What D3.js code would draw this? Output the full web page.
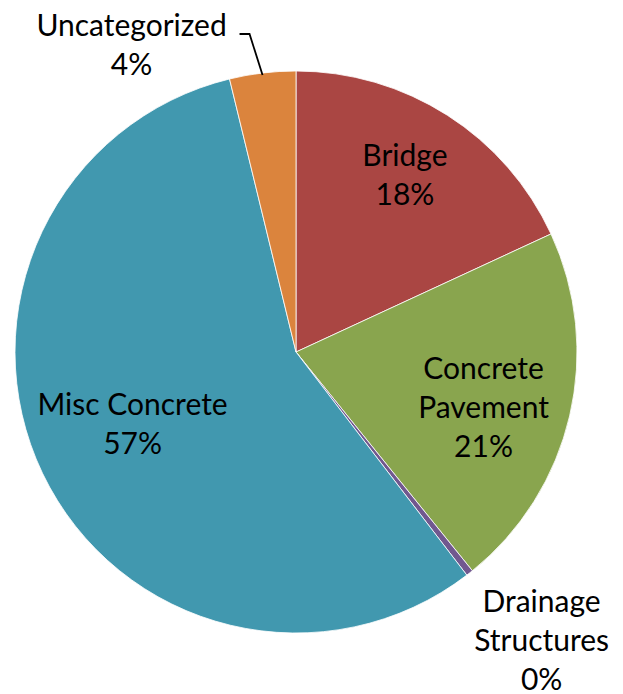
<!DOCTYPE html>
<html>
<head>
<meta charset="utf-8">
<script src="https://cdn.jsdelivr.net/npm/d3@7"></script>
<style>
  html, body { margin: 0; padding: 0; background: #fff; }
  svg text { font-family: Lato, "Open Sans", sans-serif; fill: #000; }
</style>
</head>
<body>
<svg id="chart" width="623" height="694"></svg>
<script>
// chart data
const categories = ["Bridge", "Concrete Pavement", "Drainage Structures", "Misc Concrete", "Uncategorized"];
const values = [18.1, 21.1, 0.4, 56.6, 3.8];
const labelLines = [["Bridge"], ["Concrete", "Pavement"], ["Drainage", "Structures"], ["Misc Concrete"], ["Uncategorized"]];
const colors = ["#AA4643", "#89A54E", "#71588F", "#4198AF", "#DB843D"];

const cx = 296, cy = 352, radius = 281;
const fontSize = 30, lineHeight = 39;

const svg = d3.select("#chart");
const g = svg.append("g").attr("transform", `translate(${cx},${cy})`);

const data = categories.map(function(c, i) {
  return { name: c, value: values[i], lines: labelLines[i], color: colors[i] };
});

const pie = d3.pie().sort(null).value(function(d) { return d.value; });
const arcs = pie(data);
const total = d3.sum(values);

const arc = d3.arc().innerRadius(0).outerRadius(radius);
const labelArc = d3.arc().innerRadius(radius * 0.7).outerRadius(radius * 0.7);
const edgeArc = d3.arc().innerRadius(radius).outerRadius(radius);

g.selectAll("path.slice")
  .data(arcs)
  .enter()
  .append("path")
  .attr("class", "slice")
  .attr("d", arc)
  .attr("fill", function(d) { return d.data.color; })
  .attr("stroke", "#fff")
  .attr("stroke-width", 0.8);

// nudges so the labels sit where excel put them
const nudge = {
  "Bridge": { dx: 3, dy: -11 },
  "Concrete Pavement": { dx: -4, dy: 11 },
  "Misc Concrete": { dx: 14, dy: -13 },
  "Drainage Structures": { outside: true, dx: 72, dy: 68 },
  "Uncategorized": { outside: true, dx: -131, dy: -28 }
};

function labelPos(d) {
  const n = nudge[d.data.name];
  const c = n.outside ? edgeArc.centroid(d) : labelArc.centroid(d);
  return [c[0] + n.dx, c[1] + n.dy];
}

g.selectAll("text.label")
  .data(arcs)
  .enter()
  .append("text")
  .attr("class", "label")
  .attr("text-anchor", "middle")
  .attr("font-size", fontSize)
  .each(function(d) {
    const p = labelPos(d);
    const lines = d.data.lines.concat([Math.round(d.data.value / total * 100) + "%"]);
    const t = d3.select(this);
    const y0 = p[1] - (lines.length - 1) * lineHeight / 2 + fontSize * 0.35;
    lines.forEach(function(l, i) {
      t.append("tspan").attr("x", p[0]).attr("y", y0 + i * lineHeight).text(l);
    });
  });

// leader line for Uncategorized
const unc = arcs[4];
const edge = edgeArc.centroid(unc);
const lp = labelPos(unc);
g.append("path")
  .attr("d", d3.line()([[edge[0], edge[1] + 2], [lp[0] + 118, lp[1] - 11], [lp[0] + 108, lp[1] - 11]]))
  .attr("fill", "none")
  .attr("stroke", "#000")
  .attr("stroke-width", 1.8);
</script>
</body>
</html>
